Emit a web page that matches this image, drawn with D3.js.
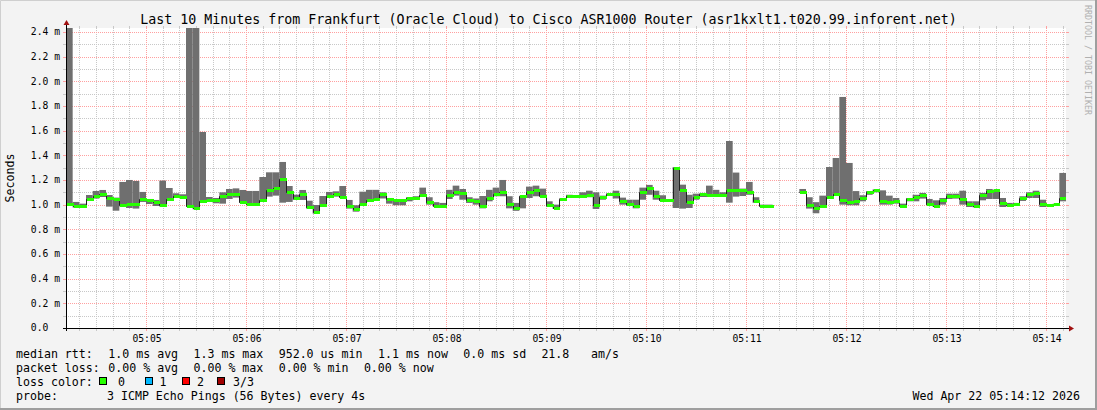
<!DOCTYPE html>
<html>
<head>
<meta charset="utf-8">
<script src="https://cdn.jsdelivr.net/npm/d3@7"></script>
<style>
body { margin: 0; background: #f3f3f3; }
svg { display: block; }
text { font-family: "DejaVu Sans Mono", monospace; white-space: pre; }
</style>
</head>
<body>
<div class="chart"></div>
<script>
// smokeping data, one value per 4 s step, ms
const startTime = new Date(2026, 3, 22, 5, 4, 12);
const endTime = new Date(2026, 3, 22, 5, 14, 12);
const stepSeconds = 4;

const smokeHi = [
  2.45, 1.022, 1.008, 1.078, 1.111, 1.119, 1.078, 1.057, 1.184, 1.2,
  1.192, 1.103, 1.046, 1.038, 1.195, 1.135, 1.092, 1.084, 2.45, 2.45,
  1.589, 1.062, 1.054, 1.1, 1.127, 1.132, 1.119, 1.111, 1.111, 1.224,
  1.262, 1.262, 1.346, 1.151, 1.081, 1.119, 1.032, 0.997, 1.07, 1.103,
  1.108, 1.151, 1.038, 0.995, 1.105, 1.12, 1.12, 1.1, 1.054, 1.04,
  1.035, 1.06, 1.068, 1.138, 1.06, 1.02, 1.014, 1.12, 1.154, 1.127,
  1.06, 1.05, 1.07, 1.12, 1.138, 1.2, 1.068, 1.014, 1.073, 1.146,
  1.154, 1.13, 1.027, 1.0, 1.054, 1.08, 1.07, 1.1, 1.113, 1.1,
  1.073, 1.092, 1.113, 1.057, 1.04, 1.04, 1.138, 1.16, 1.113, 1.076,
  1.04, 1.305, 1.162, 1.08, 1.089, 1.095, 1.154, 1.12, 1.1, 1.516,
  1.26, 1.13, 1.184, 1.06, 1.0, 1.0, null, null, null, null,
  1.127, 1.06, 1.02, 1.073, 1.305, 1.378, 1.873, 1.338, 1.11, 1.076,
  1.11, 1.124, 1.116, 1.073, 1.054, 1.008, 1.054, 1.08, 1.095, 1.046,
  1.035, 1.054, 1.089, 1.089, 1.113, 1.027, 1.027, 1.095, 1.127, 1.122,
  1.054, 1.014, 1.014, 1.068, 1.1, 1.113, 1.04, 1.005, 1.008, 1.257
];

const medianRtt = [
  1.008, 0.986, 0.986, 1.046, 1.073, 1.084, 1.057, 1.046, 1.0, 1.003,
  1.008, 1.046, 1.035, 1.024, 1.0, 1.049, 1.073, 1.065, 0.992, 0.970,
  1.027, 1.038, 1.038, 1.073, 1.084, 1.084, 1.022, 1.008, 1.008, 1.038,
  1.116, 1.135, 1.211, 1.105, 1.057, 1.084, 0.984, 0.943, 1.0, 1.073,
  1.089, 1.065, 0.992, 0.968, 1.008, 1.035, 1.043, 1.086, 1.049, 1.035,
  1.035, 1.05, 1.05, 1.076, 1.02, 0.989, 0.986, 1.076, 1.1, 1.092,
  1.04, 1.027, 0.992, 1.057, 1.086, 1.1, 1.008, 0.973, 1.073, 1.105,
  1.116, 1.068, 0.995, 0.976, 1.049, 1.073, 1.068, 1.068, 1.076, 1.0,
  1.06, 1.086, 1.086, 1.03, 1.008, 0.989, 1.1, 1.132, 1.068, 1.035,
  1.035, 1.3, 1.116, 1.024, 1.065, 1.084, 1.076, 1.076, 1.076, 1.116,
  1.116, 1.116, 1.105, 1.027, 0.992, 0.992, null, null, null, null,
  1.103, 1.0, 0.976, 0.992, 1.06, 1.086, 1.035, 1.024, 1.032, 1.05,
  1.103, 1.116, 1.027, 1.022, 1.027, 0.986, 1.046, 1.06, 1.08, 1.008,
  0.986, 1.04, 1.068, 1.073, 1.049, 1.003, 0.992, 1.076, 1.108, 1.116,
  1.011, 0.997, 1.003, 1.05, 1.084, 1.095, 1.008, 0.997, 1.003, 1.057
];

const smokeLo = [
  0.995, 0.976, 0.981, 1.038, 1.049, 1.062, 0.984, 0.951, 0.984, 0.973,
  0.968, 1.022, 1.005, 0.989, 0.984, 1.038, 1.054, 1.054, 0.984, 0.962,
  1.014, 1.024, 1.011, 1.008, 1.046, 1.057, 1.014, 1.0, 1.0, 1.022,
  1.065, 1.073, 1.016, 1.022, 1.038, 1.038, 0.968, 0.927, 0.992, 1.059,
  1.065, 1.059, 0.968, 0.943, 1.0, 1.03, 1.038, 1.05, 1.008, 0.995,
  0.995, 1.027, 1.04, 1.068, 1.0, 0.986, 0.983, 1.046, 1.073, 1.04,
  1.014, 1.0, 0.97, 1.027, 1.068, 1.068, 0.97, 0.95, 0.97, 1.054,
  1.068, 1.068, 0.981, 0.965, 1.04, 1.062, 1.062, 1.06, 1.06, 0.965,
  1.04, 1.08, 1.05, 1.0, 0.99, 0.97, 1.04, 1.08, 1.04, 1.03,
  1.03, 0.973, 0.968, 0.973, 1.04, 1.062, 1.062, 1.07, 1.07, 1.016,
  1.065, 1.07, 1.08, 1.014, 0.99, 0.989, null, null, null, null,
  1.095, 0.968, 0.93, 0.981, 1.054, 1.07, 1.0, 0.995, 0.995, 1.027,
  1.08, 1.1, 1.0, 1.0, 1.008, 0.981, 1.027, 1.027, 1.049, 0.995,
  0.981, 1.0, 1.046, 1.049, 1.0, 0.981, 0.978, 1.035, 1.046, 1.046,
  0.981, 0.986, 0.997, 1.03, 1.054, 1.054, 0.981, 0.986, 0.995, 1.027
];

const yMax = 2.432;
const yTicks = [0, 0.2, 0.4, 0.6, 0.8, 1.0, 1.2, 1.4, 1.6, 1.8, 2.0, 2.2, 2.4];

const titleText = "Last 10 Minutes from Frankfurt (Oracle Cloud) to Cisco ASR1000 Router (asr1kxlt1.t020.99.inforent.net)";
// legend rows: [column, text]
const rttLegend = [[0, "median rtt:"], [13, "1.0 ms avg"], [25, "1.3 ms max"], [37, "952.0 us min"],
                   [51, "1.1 ms now"], [63, "0.0 ms sd"], [74, "21.8"], [81, "am/s"]];
const lossLegend = [[0, "packet loss:"], [13, "0.00 % avg"], [25, "0.00 % max"], [37, "0.00 % min"],
                    [49, "0.00 % now"]];
const lossLabels = ["0", "1", "2", "3/3"];
const lossColors = ["#26ff00", "#00b8ff", "#ff0000", "#a00000"];
const probeText = "3 ICMP Echo Pings (56 Bytes) every 4s";
const stampText = "Wed Apr 22 05:14:12 2026";

// layout
const width = 1097, height = 410;
const plot = {left: 66, right: 1066, top: 28, bottom: 328};
const col = c => 16 + c * 7.1;
const rowY = [357.5, 371.5, 385.5, 399.5];
const lossBoxX = [99.5, 145.5, 182.5, 217.5];
const lossLabelX = [118, 159.5, 197, 233];

const svg = d3.select(".chart").append("svg")
    .attr("width", width)
    .attr("height", height);

svg.append("rect")
    .attr("width", width).attr("height", height)
    .attr("fill", "#f3f3f3");

// 3d frame
svg.append("path").attr("d", `M0.5,${height} V0.5 H${width}`)
    .attr("stroke", "#cfcfcf").attr("fill", "none");
svg.append("path").attr("d", `M0,${height - 1} H${width - 1} V0`)
    .attr("stroke", "#9e9e9e").attr("stroke-width", 2).attr("fill", "none");

svg.append("rect")
    .attr("x", plot.left).attr("y", plot.top)
    .attr("width", plot.right - plot.left).attr("height", plot.bottom - plot.top)
    .attr("fill", "#ffffff");

const x = d3.scaleTime()
    .domain([startTime, endTime])
    .range([plot.left, plot.right]);

const y = d3.scaleLinear()
    .domain([0, yMax])
    .range([plot.bottom, plot.top]);

const px = v => Math.round(v) + 0.5;

// grid
const minorGrid = "#c8c8c8", majorGrid = "#ffa0a0";
const grid = svg.append("g");

const minorTimes = d3.timeSecond.every(10).range(startTime, endTime)
    .filter(d => d.getSeconds() !== 0 && +d > +startTime);
const majorTimes = d3.timeMinute.every(1).range(startTime, endTime);

function vline(t, color) {
  const xx = px(x(t));
  grid.append("line").attr("x1", xx).attr("x2", xx)
      .attr("y1", plot.top).attr("y2", plot.bottom)
      .attr("stroke", color).attr("stroke-dasharray", "1,1");
  grid.append("line").attr("x1", xx).attr("x2", xx)
      .attr("y1", plot.bottom).attr("y2", plot.bottom + 3)
      .attr("stroke", color);
  grid.append("line").attr("x1", xx).attr("x2", xx)
      .attr("y1", plot.top - 2).attr("y2", plot.top)
      .attr("stroke", color);
}
function hline(v, color) {
  const yy = px(y(v));
  grid.append("line").attr("x1", plot.left).attr("x2", plot.right + 1)
      .attr("y1", yy).attr("y2", yy)
      .attr("stroke", color).attr("stroke-dasharray", "1,1");
  grid.append("line").attr("x1", plot.left - 3).attr("x2", plot.left)
      .attr("y1", yy).attr("y2", yy).attr("stroke", color);
  grid.append("line").attr("x1", plot.right).attr("x2", plot.right + 3)
      .attr("y1", yy).attr("y2", yy).attr("stroke", color);
}

minorTimes.forEach(t => vline(t, minorGrid));
d3.range(1, 25, 2).map(k => k / 10).forEach(v => hline(v, minorGrid));
majorTimes.forEach(t => vline(t, majorGrid));
yTicks.filter(v => v > 0).forEach(v => hline(v, majorGrid));

// smoke + median
svg.append("clipPath").attr("id", "plotclip")
  .append("rect")
    .attr("x", plot.left).attr("y", plot.top)
    .attr("width", plot.right - plot.left).attr("height", plot.bottom - plot.top);

const steps = medianRtt.map((m, i) => ({
  t0: new Date(+startTime + i * stepSeconds * 1000),
  t1: new Date(+startTime + (i + 1) * stepSeconds * 1000),
  hi: smokeHi[i], med: m, lo: smokeLo[i]
}));
const valid = steps.filter(d => d.med != null);

const data = svg.append("g").attr("clip-path", "url(#plotclip)");

data.selectAll(".smoke")
  .data(valid)
  .enter().append("rect")
    .attr("class", "smoke")
    .attr("x", d => x(d.t0))
    .attr("width", d => x(d.t1) - x(d.t0))
    .attr("y", d => y(d.hi))
    .attr("height", d => y(d.lo) - y(d.hi))
    .attr("fill", "#6f6f6f");

const medPts = [];
steps.forEach(d => {
  medPts.push({t: d.t0, v: d.med});
  medPts.push({t: d.t1, v: d.med});
});

data.append("path")
    .datum(medPts)
    .attr("d", d3.line()
        .defined(d => d.v != null)
        .x(d => Math.round(x(d.t)) + 0.5)
        .y(d => Math.round(y(d.v)) + 0.5))
    .attr("fill", "none")
    .attr("stroke", "#202020")
    .attr("stroke-width", 1);

data.selectAll(".med")
  .data(valid)
  .enter().append("rect")
    .attr("class", "med")
    .attr("x", d => Math.round(x(d.t0)) + 1)
    .attr("width", d => Math.round(x(d.t1)) - Math.round(x(d.t0)))
    .attr("y", d => Math.round(y(d.med)) - 1)
    .attr("height", 3)
    .attr("fill", lossColors[0]);

// axes
svg.append("line")
    .attr("x1", px(plot.left)).attr("x2", px(plot.left))
    .attr("y1", plot.bottom + 3).attr("y2", plot.top - 4)
    .attr("stroke", "#000");
svg.append("line")
    .attr("x1", plot.left - 3).attr("x2", plot.right + 5)
    .attr("y1", px(plot.bottom)).attr("y2", px(plot.bottom))
    .attr("stroke", "#000");
svg.append("path")
    .attr("d", `M${px(plot.left) - 3},${plot.top - 3} L${px(plot.left)},${plot.top - 8} L${px(plot.left) + 3},${plot.top - 3} Z`)
    .attr("fill", "#a01010");
svg.append("path")
    .attr("d", `M${plot.right + 3},${px(plot.bottom) - 3} L${plot.right + 8},${px(plot.bottom)} L${plot.right + 3},${px(plot.bottom) + 3} Z`)
    .attr("fill", "#a01010");

// tick labels
svg.selectAll(".ylab")
  .data(yTicks)
  .enter().append("text")
    .attr("class", "ylab")
    .attr("x", 60)
    .attr("y", d => y(d))
    .attr("dy", "0.36em")
    .attr("text-anchor", "end")
    .style("font-size", "9.7px")
    .text(d => d === 0 ? "0.0  " : d.toFixed(1) + " m");

const fmt = d3.timeFormat("%H:%M");
svg.selectAll(".xlab")
  .data(majorTimes)
  .enter().append("text")
    .attr("class", "xlab")
    .attr("x", d => x(d) + 1)
    .attr("y", 341.5)
    .attr("text-anchor", "middle")
    .style("font-size", "9.7px")
    .text(fmt);

svg.append("text")
    .attr("x", 548.5).attr("y", 23.5)
    .attr("text-anchor", "middle")
    .style("font-size", "13.3px")
    .text(titleText);

svg.append("text")
    .attr("transform", `translate(14,${(plot.top + plot.bottom) / 2}) rotate(-90)`)
    .attr("text-anchor", "middle")
    .style("font-size", "11.6px")
    .text("Seconds");

svg.append("text")
    .attr("transform", "translate(1085,5) rotate(90)")
    .style("font-size", "8.3px")
    .attr("fill", "#b0b0b0")
    .text("RRDTOOL / TOBI OETIKER");

// legend
const legend = svg.append("g").style("font-size", "11.6px");

function legendRow(items, row) {
  items.forEach(([c, t]) => {
    legend.append("text").attr("x", col(c)).attr("y", rowY[row]).text(t);
  });
}
legendRow(rttLegend, 0);
legendRow(lossLegend, 1);
legendRow([[0, "loss color:"]], 2);
legendRow([[0, "probe:"]], 3);

legend.append("text").attr("x", 107).attr("y", rowY[3]).text(probeText);

lossColors.forEach((c, i) => {
  legend.append("rect")
      .attr("x", lossBoxX[i]).attr("y", 377.5)
      .attr("width", 7).attr("height", 7)
      .attr("fill", c).attr("stroke", "#000");
  legend.append("text")
      .attr("x", lossLabelX[i]).attr("y", rowY[2])
      .text(lossLabels[i]);
});

legend.append("text")
    .attr("x", 1080).attr("y", rowY[3])
    .attr("text-anchor", "end")
    .text(stampText);
</script>
</body>
</html>
